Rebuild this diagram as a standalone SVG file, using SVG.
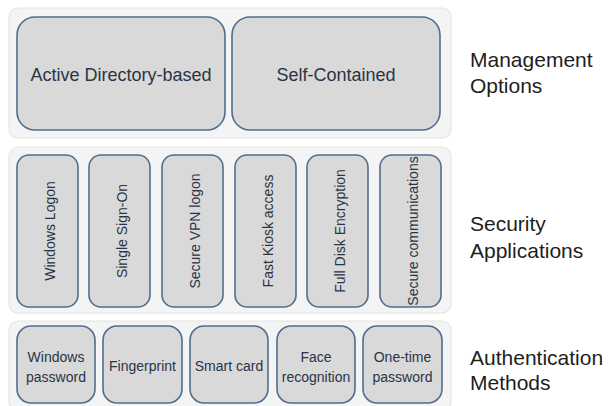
<svg xmlns="http://www.w3.org/2000/svg" width="611" height="406" viewBox="0 0 611 406">
<style>
.panel{fill:#f4f4f4;stroke:#e4e4e4;stroke-width:1.2}
.box{fill:#d9d9d9;stroke:#4f6d8f;stroke-width:1.6}
.t{font-family:"Liberation Sans",Arial,sans-serif;fill:#2a3445;text-anchor:middle}
.big{font-size:18px}
.sm{font-size:14px}
.lab{font-family:"Liberation Sans",Arial,sans-serif;font-size:21px;fill:#1e1e1e}
</style>
<rect width="611" height="406" fill="#ffffff"/>
<g id="panels">
<rect class="panel" x="9" y="8" width="442" height="130" rx="9"/>
<rect class="panel" x="9" y="147" width="442" height="166" rx="9"/>
<rect class="panel" x="9" y="321" width="442" height="90" rx="9"/>
</g>
<g id="node-active-directory"><rect class="box" x="17" y="17" width="208" height="113" rx="18"/><text class="t big" x="121" y="81">Active Directory-based</text></g>
<g id="node-self-contained"><rect class="box" x="232" y="17" width="208" height="113" rx="18"/><text class="t big" x="336" y="81">Self-Contained</text></g>

<g id="node-windows-logon"><rect class="box" x="17" y="155" width="61" height="152" rx="12"/><text class="t sm" transform="translate(54.5,231) rotate(-90)">Windows Logon</text></g>
<g id="node-sso"><rect class="box" x="89" y="155" width="61" height="152" rx="12"/><text class="t sm" transform="translate(126.5,231) rotate(-90)">Single Sign-On</text></g>
<g id="node-vpn"><rect class="box" x="162" y="155" width="61" height="152" rx="12"/><text class="t sm" transform="translate(199.5,231) rotate(-90)">Secure VPN logon</text></g>
<g id="node-kiosk"><rect class="box" x="235" y="155" width="61" height="152" rx="12"/><text class="t sm" transform="translate(272.5,231) rotate(-90)">Fast Kiosk access</text></g>
<g id="node-fde"><rect class="box" x="307" y="155" width="61" height="152" rx="12"/><text class="t sm" transform="translate(344.5,231) rotate(-90)">Full Disk Encryption</text></g>
<g id="node-secure-comm"><rect class="box" x="380" y="155" width="61" height="152" rx="12"/><text class="t sm" transform="translate(417.5,231) rotate(-90)">Secure communications</text></g>

<g id="node-win-password"><rect class="box" x="17" y="326" width="78" height="77" rx="14"/><text class="t sm" x="56" y="362">Windows</text><text class="t sm" x="56" y="382">password</text></g>
<g id="node-fingerprint"><rect class="box" x="103" y="326" width="79" height="77" rx="14"/><text class="t sm" x="142.5" y="371">Fingerprint</text></g>
<g id="node-smartcard"><rect class="box" x="190" y="326" width="78" height="77" rx="14"/><text class="t sm" x="229" y="371">Smart card</text></g>
<g id="node-face"><rect class="box" x="277" y="326" width="78" height="77" rx="14"/><text class="t sm" x="316" y="362">Face</text><text class="t sm" x="316" y="382">recognition</text></g>
<g id="node-otp"><rect class="box" x="363" y="326" width="79" height="77" rx="14"/><text class="t sm" x="402.5" y="362">One-time</text><text class="t sm" x="402.5" y="382">password</text></g>

<g id="labels">
<text class="lab" x="470" y="67">Management</text>
<text class="lab" x="470" y="93">Options</text>
<text class="lab" x="470" y="231">Security</text>
<text class="lab" x="470" y="258">Applications</text>
<text class="lab" x="470" y="365">Authentication</text>
<text class="lab" x="470" y="390">Methods</text>
</g>
<g id="connectors"></g>
</svg>
